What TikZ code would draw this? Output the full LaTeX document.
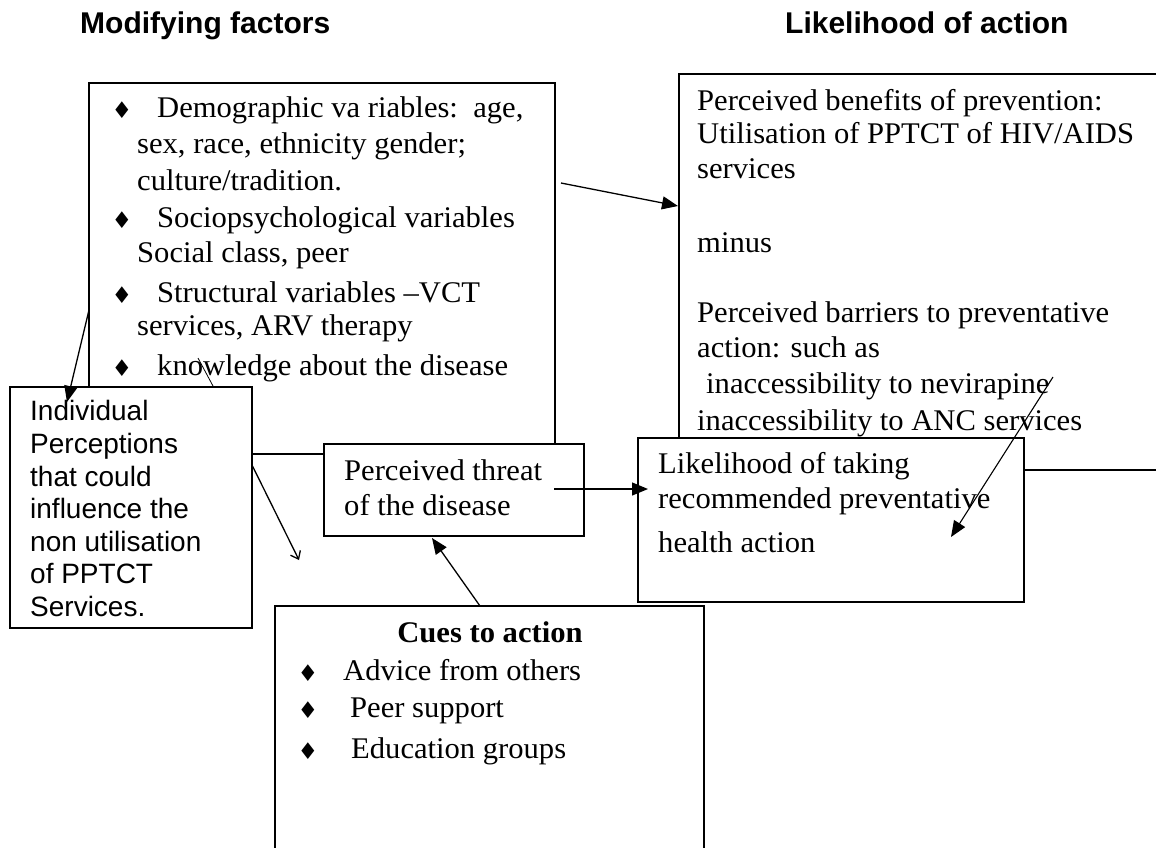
\documentclass[tikz,border=0pt]{standalone}
\usepackage{fontspec}
\setmainfont{Liberation Serif}[FakeStretch=1.02]
\setsansfont{Liberation Sans}
\newfontfamily\symfont{DejaVu Sans}
\usetikzlibrary{arrows.meta}
\begin{document}
\begin{tikzpicture}[x=1pt,y=-1pt,
  box/.style={draw,line width=1.3pt,fill=white,inner sep=0pt,outer sep=0pt},
  ser/.style={anchor=base west,inner sep=0pt,font=\fontsize{30}{35}\selectfont},
  serb/.style={anchor=base,inner sep=0pt,font=\bfseries\fontsize{30}{35}\selectfont},
  san/.style={anchor=base west,inner sep=0pt,font=\sffamily\fontsize{28}{33}\selectfont},
  ttl/.style={anchor=base west,inner sep=0pt,font=\sffamily\bfseries\fontsize{30}{36}\selectfont},
  bul/.style={inner sep=0pt,font=\symfont\fontsize{23}{26}\selectfont},
  arr/.style={-{Triangle[length=16pt,width=13pt]},line width=1.3pt},
  openarr/.style={-{Straight Barb[length=7pt,width=11pt]},line width=1.3pt},
  thinline/.style={line width=0.8pt},
]
\path[use as bounding box] (0,0) rectangle (1156,847);
\clip (0,0) rectangle (1156,847);

% boxes
\node[box,minimum width=466pt,minimum height=371pt] (mf) at (322,268.5) {};
\node[box,minimum width=521pt,minimum height=396pt] (rb) at (939.5,272) {};
\node[box,minimum width=242pt,minimum height=241pt] (ip) at (131,507.5) {};
\node[box,minimum width=260pt,minimum height=92pt] (th) at (454,490) {};
\node[box,minimum width=386pt,minimum height=164pt] (lk) at (831,520) {};
\node[box,minimum width=429pt,minimum height=294pt] (cu) at (489.5,753) {};

% titles
\node[ttl] (t1) at (80,33) {Modifying factors};
\node[ttl] (t2) at (785,33) {Likelihood of action};

% modifying factors text
\node[bul] (b1) at (122,110) {♦};
\node[ser] (m1) at (157,117) {Demographic va riables:\ \ age,};
\node[ser] (m2) at (137,153) {sex, race, ethnicity gender;};
\node[ser] (m3) at (137,190) {culture/tradition.};
\node[bul] (b2) at (122,220) {♦};
\node[ser] (m4) at (157,227) {Sociopsychological variables};
\node[ser] (m5) at (137,262) {Social class, peer};
\node[bul] (b3) at (122,295) {♦};
\node[ser] (m6) at (157,302) {Structural variables –VCT};
\node[ser] (m7) at (137,335) {services, ARV therapy};
\node[bul] (b4) at (122,368) {♦};
\node[ser] (m8) at (157,375) {knowledge about the disease};

% right box text
\node[ser] (r1) at (697,110) {Perceived benefits of prevention:};
\node[ser] (r2) at (697,143) {Utilisation of PPTCT of HIV/AIDS};
\node[ser] (r3) at (697,178) {services};
\node[ser] (r4) at (697,252) {minus};
\node[ser] (r5) at (697,322) {Perceived barriers to preventative};
\node[ser] (r6) at (697,357) {action: such as};
\node[ser] (r7) at (706,393) {inaccessibility to nevirapine};
\node[ser] (r8) at (697,430) {inaccessibility to ANC services};

% individual perceptions
\node[san] (i1) at (30,420) {Individual};
\node[san] (i2) at (30,453) {Perceptions};
\node[san] (i3) at (30,486) {that could};
\node[san] (i4) at (30,518) {influence the};
\node[san] (i5) at (30,551) {non utilisation};
\node[san] (i6) at (30,583) {of PPTCT};
\node[san] (i7) at (30,616) {Services.};

% threat
\node[ser] (p1) at (344,480) {Perceived threat};
\node[ser] (p2) at (344,515) {of the disease};

% likelihood
\node[ser] (l1) at (658,473) {Likelihood of taking};
\node[ser] (l2) at (658,508) {recommended preventative};
\node[ser] (l3) at (658,552) {health action};

% cues
\node[serb] (c0) at (490,642) {Cues to action};
\node[bul] (cb1) at (308,673) {♦};
\node[ser] (c1) at (343,680) {Advice from others};
\node[bul] (cb2) at (308,710) {♦};
\node[ser] (c2) at (350,717) {Peer support};
\node[bul] (cb3) at (308,751) {♦};
\node[ser] (c3) at (351,758) {Education groups};

% connector end points
\coordinate (a1s) at (561,183);
\coordinate (a1e) at (678,206);
\coordinate (a2s) at (89,310);
\coordinate (a2e) at (67,402);
\coordinate (a3s) at (198,358);
\coordinate (a3e) at (213,386);
\coordinate (a4s) at (252,465);
\coordinate (a4e) at (299,560);
\coordinate (a5s) at (554,489);
\coordinate (a5e) at (648,489);
\coordinate (a6s) at (480,606);
\coordinate (a6e) at (432,538);
\coordinate (a7s) at (1053,377);
\coordinate (a7e) at (951,537);

\draw[arr] (a1s) -- (a1e);
\draw[arr] (a2s) -- (a2e);
\draw[thinline] (a3s) -- (a3e);
\draw[openarr] (a4s) -- (a4e);
\draw[arr] (a5s) -- (a5e);
\draw[arr] (a6s) -- (a6e);
\draw[arr,line width=1.1pt] (a7s) -- (a7e);
\end{tikzpicture}
\end{document}
